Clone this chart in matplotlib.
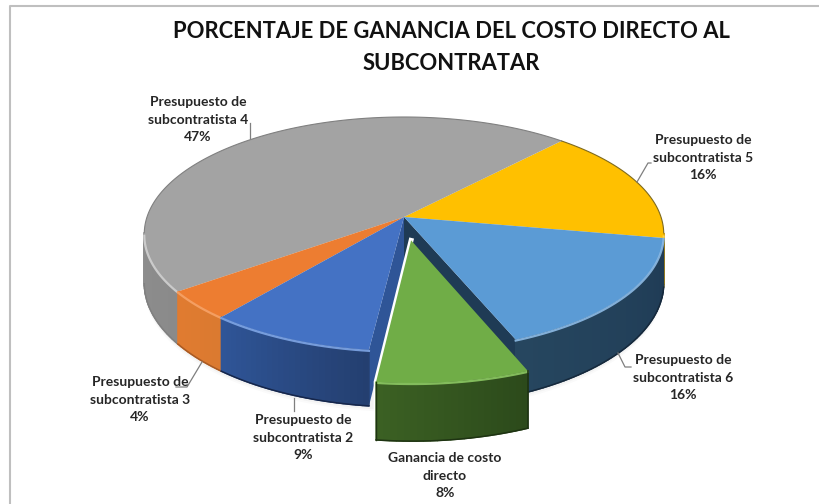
import numpy as np
import matplotlib
matplotlib.use('Agg')
import matplotlib.pyplot as plt
from matplotlib.colors import to_rgb

plt.rcParams['font.family'] = ['Lato', 'DejaVu Sans']

title = 'PORCENTAJE DE GANANCIA DEL COSTO DIRECTO AL\nSUBCONTRATAR'

# clockwise from the gray/yellow boundary
labels = ['Presupuesto de\nsubcontratista 5', 'Presupuesto de\nsubcontratista 6',
          'Ganancia de costo\ndirecto', 'Presupuesto de\nsubcontratista 2',
          'Presupuesto de\nsubcontratista 3', 'Presupuesto de\nsubcontratista 4']
values = [16, 16, 8, 9, 4, 47]
top_colors = ['#FFC000', '#5B9BD5', '#70AD47', '#4472C4', '#ED7D31', '#A3A3A3']
# side shade: right end, left end of each slice
side_right = ['#A07800', '#1F3B55', '#2C4A1B', '#243F70', '#DB7A30', '#8A8A8A']
side_left = ['#C79500', '#26465F', '#3B6023', '#2F5597', '#E07B30', '#9C9C9C']
rim_colors = ['#FFD54F', '#8DBBE6', '#8CC863', '#7FA6E6', '#F7A368', '#D2D2D2']
edge_colors = ['#7F6A1E', '#16293C', '#1E3312', '#16264A', '#A85A24', '#808080']

# where the text goes: centre x, y of first line (pixels)
label_pos = [(703, 140), (683, 360), (445, 458), (303, 420), (140, 382), (198, 102)]
leaders = [[(651, 163), (648, 163), (637, 182)],
           [(618, 353), (625, 367), (631, 367)],
           None,
           [(294, 398), (294, 411)],
           [(202, 362), (187, 387), (176, 387)],
           [(250, 123), (250, 138)]]

# perspective of the disc
cx, cy = 404, 217
A, B, k = 257, 114.5, 0.145
depth = 48
start_angle = 42.7
explode = 0.2
front_limit = -0.14


def project(theta, r=1.0, off=(0, 0), lower=False):
    u = r * np.sin(theta) + off[0]
    v = r * np.cos(theta) + off[1]
    w = 1 + k * v
    x = cx + A * u / w
    y = cy - B * v / w
    if lower:
        y = y + depth / w
    return x, y


fig = plt.figure(figsize=(8.19, 5.04), dpi=100)
ax = fig.add_axes([0, 0, 1, 1])
ax.set_xlim(0, 819)
ax.set_ylim(504, 0)
ax.axis('off')

# frame of the screenshot
ax.plot([10, 10, 819], [504, 6, 6], color='#BFBFBF', lw=1.5, zorder=1)

angles = np.radians(start_angle + np.cumsum([0] + values) * 3.6)
mids = (angles[:-1] + angles[1:]) / 2
offs = [(0, 0)] * len(values)
offs[2] = (explode * np.sin(mids[2]), explode * np.cos(mids[2]))

# soft shadow under the whole pie
full = np.linspace(0, 2 * np.pi, 200)
sx, sy = project(full, lower=True)
for grow, al in [(5, 0.02), (3, 0.03)]:
    ax.fill(sx, sy + grow, color='k', alpha=al, lw=0, zorder=2)


def draw_wall(i, a, color, z):
    off = offs[i]
    px, py = project(0, 0, off)
    bx, by = project(0, 0, off, lower=True)
    rx, ry = project(a, 1, off)
    qx, qy = project(a, 1, off, lower=True)
    ax.fill([px, rx, qx, bx], [py, ry, qy, by], color=color, lw=0, zorder=z)


def draw_slice(i, z):
    t = np.linspace(angles[i], angles[i + 1], max(int(values[i] * 3), 12))
    off = offs[i]
    px, py = project(0, 0, off)

    # outer side, shaded strip by strip
    c0 = np.array(to_rgb(side_right[i]))
    c1 = np.array(to_rgb(side_left[i]))
    for j in range(len(t) - 1):
        if np.cos((t[j] + t[j + 1]) / 2) > front_limit:
            continue
        x0, y0 = project(t[j:j + 2], 1, off)
        x1, y1 = project(t[j:j + 2], 1, off, lower=True)
        f = j / (len(t) - 2)
        ax.fill(np.r_[x0, x1[::-1]], np.r_[y0, y1[::-1]], color=c0 + (c1 - c0) * f,
                lw=1.0, zorder=z)

    # top
    x, y = project(t, 1, off)
    ax.fill(np.r_[px, x], np.r_[py, y], color=top_colors[i], lw=0, zorder=z + 0.2)

    # bevel on the rim, thin dark line on the back
    front = np.cos(t) < front_limit
    if front.any():
        ax.plot(x[front], y[front] + 1, color=rim_colors[i], lw=1.6, alpha=0.9, zorder=z + 0.3)
        qx, qy = project(t[front], 1, off, lower=True)
        ax.plot(qx, qy, color=edge_colors[i], lw=1.1, zorder=z + 0.3)
    back = np.cos(t) >= front_limit
    if back.any():
        ax.plot(x[back], y[back], color=edge_colors[i], lw=0.8, zorder=z + 0.3)


# back to front, green last because it is pulled out
draw_slice(0, 3)
draw_slice(5, 4)
draw_wall(1, angles[2], side_right[1], 4.9)
draw_slice(1, 5)
draw_slice(4, 6)
draw_wall(3, angles[3], side_left[3], 6.9)
draw_slice(3, 7)

# white glow on the outside of the pulled out slice
t = np.linspace(angles[2], angles[3], 30)
gx, gy = project(t, 1, offs[2])
hx, hy = project(t, 1, offs[2], lower=True)
ox, oy = project(0, 0, offs[2])
ax.plot(np.r_[ox, gx[-1], hx[::-1]], np.r_[oy, gy[-1], hy[::-1]], color='white', lw=3.5,
        zorder=7.8, solid_joinstyle='round')
draw_slice(2, 8)
ax.plot([gx[0], hx[0]], [gy[0], hy[0]], color=edge_colors[2], lw=1.2, zorder=8.4)
ax.plot([gx[-1], hx[-1]], [gy[-1], hy[-1]], color=edge_colors[2], lw=1.0, zorder=8.4)

# leader lines
for line in leaders:
    if line is None:
        continue
    ax.plot([p[0] for p in line], [p[1] for p in line], color='#7F7F7F', lw=0.9, zorder=9)

# labels
for i, lab in enumerate(labels):
    lx, ly = label_pos[i]
    parts = lab.split('\n') + ['%d%%' % values[i]]
    for n, part in enumerate(parts):
        ax.text(lx, ly + n * 17.7, part, ha='center', va='center', fontsize=10,
                fontweight='bold', color='#262626', zorder=10)

# title, two lines
for n, part in enumerate(title.split('\n')):
    ax.text(451, 32 + n * 31.5, part, ha='center', va='center', fontsize=15.8,
            fontweight='bold', color='#111111', zorder=10)

fig.savefig('out.png', dpi=100)
